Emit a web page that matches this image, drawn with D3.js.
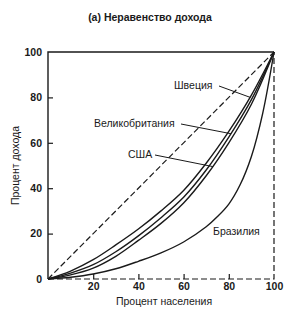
<!DOCTYPE html>
<html>
<head>
<meta charset="utf-8">
<script src="https://cdn.jsdelivr.net/npm/d3@7"></script>
<style>
  body { margin: 0; background: #fff; }
  text { font-family: "Liberation Sans", Arial, sans-serif; fill: #1a1a1a; }
  .curve { fill: none; stroke: #1a1a1a; stroke-width: 1.4; }
  .dash { fill: none; stroke: #1a1a1a; stroke-width: 1.2; stroke-dasharray: 6,3; }
</style>
</head>
<body>
<script>
// cumulative % of population (x) and % of income (y)
var population = [0, 10, 20, 30, 40, 50, 60, 70, 80, 90, 100];
var sweden  = [0, 3.5, 8.5, 15, 22, 30, 39, 51, 65, 81, 100];
var britain = [0, 2.6, 6.3, 12, 19, 27, 36, 48, 62.5, 79, 100];
var usa     = [0, 1.8, 4.8, 10, 17, 24.5, 33.5, 45.5, 60, 77, 100];
var brazilPopulation = [0, 10, 20, 30, 40, 50, 60, 70, 75, 80, 85, 90, 95, 100];
var brazil  = [0, 0.8, 2.2, 4.5, 7.8, 11.5, 16.3, 23, 27.5, 33, 41.5, 54, 73, 100];
var ticks = [20, 40, 60, 80, 100];

var width = 297, height = 311;
var margin = {top: 52, right: 23, bottom: 32, left: 48};
var w = width - margin.left - margin.right;
var h = height - margin.top - margin.bottom;

var svg = d3.select("body").append("svg")
    .attr("width", width)
    .attr("height", height);

var g = svg.append("g")
    .attr("transform", "translate(" + margin.left + "," + margin.top + ")");

var x = d3.scaleLinear().domain([0, 100]).range([0, w]);
var y = d3.scaleLinear().domain([0, 100]).range([h, 0]);

// title
svg.append("text")
    .attr("x", 150)
    .attr("y", 21)
    .attr("text-anchor", "middle")
    .style("font-size", "10.5px")
    .style("font-weight", "bold")
    .text("(а) Неравенство дохода");

// solid left and top frame
g.append("path")
    .attr("class", "curve")
    .attr("d", "M" + x(0) + "," + y(0) + "V" + y(100) + "H" + x(100));

// dashed bottom, right and diagonal (perfect equality)
g.append("path")
    .attr("class", "dash")
    .attr("d", "M" + x(0) + "," + y(0) + "H" + x(100) + "V" + y(100));
g.append("line")
    .attr("class", "dash")
    .attr("x1", x(0)).attr("y1", y(0))
    .attr("x2", x(100)).attr("y2", y(100));

// axes with inner ticks
var xAxis = g.append("g")
    .attr("transform", "translate(0," + h + ")")
    .call(d3.axisBottom(x).tickValues(ticks).tickSizeInner(-5).tickSizeOuter(0).tickPadding(4));
xAxis.select(".domain").remove();
xAxis.selectAll(".tick line").filter(function(d) { return d == 100; }).remove();

var yAxis = g.append("g")
    .call(d3.axisLeft(y).tickValues([0].concat(ticks)).tickSizeInner(-5).tickSizeOuter(0).tickPadding(6));
yAxis.select(".domain").remove();
yAxis.selectAll(".tick line").filter(function(d) { return d == 0 || d == 100; }).remove();

g.selectAll(".tick text")
    .style("font-size", "10.5px")
    .style("font-weight", "bold")
    .attr("fill", "#1a1a1a");
g.selectAll(".tick line").attr("stroke", "#1a1a1a").attr("stroke-width", 1.2);

// Lorenz curves
var line = d3.line()
    .x(function(d) { return x(d[0]); })
    .y(function(d) { return y(d[1]); })
    .curve(d3.curveCatmullRom.alpha(0.5));

[sweden, britain, usa].forEach(function(s) {
    g.append("path")
        .attr("class", "curve")
        .attr("d", line(d3.zip(population, s)));
});
g.append("path")
    .attr("class", "curve")
    .attr("d", line(d3.zip(brazilPopulation, brazil)));

// labels with leader lines
var labels = [
    {text: "Швеция", tx: 174, ty: 89, x1: 219, y1: 86, px: 89.5, py: 80},
    {text: "Великобритания", tx: 94, ty: 127, x1: 181, y1: 124, px: 81, py: 64},
    {text: "США", tx: 128, ty: 158, x1: 155, y1: 155, px: 73, py: 49.5}
];
labels.forEach(function(l) {
    svg.append("text")
        .attr("x", l.tx).attr("y", l.ty)
        .style("font-size", "10.5px")
        .text(l.text);
    svg.append("line")
        .attr("x1", l.x1).attr("y1", l.y1)
        .attr("x2", margin.left + x(l.px)).attr("y2", margin.top + y(l.py))
        .attr("stroke", "#1a1a1a").attr("stroke-width", 1);
});
svg.append("text")
    .attr("x", 213).attr("y", 235)
    .style("font-size", "10.5px")
    .text("Бразилия");

// axis titles
svg.append("text")
    .attr("x", margin.left + w / 2 + 3)
    .attr("y", 305)
    .attr("text-anchor", "middle")
    .style("font-size", "10.5px")
    .text("Процент населения");

svg.append("text")
    .attr("transform", "translate(19," + (margin.top + h / 2) + ") rotate(-90)")
    .attr("text-anchor", "middle")
    .style("font-size", "10.5px")
    .text("Процент дохода");
</script>
</body>
</html>
